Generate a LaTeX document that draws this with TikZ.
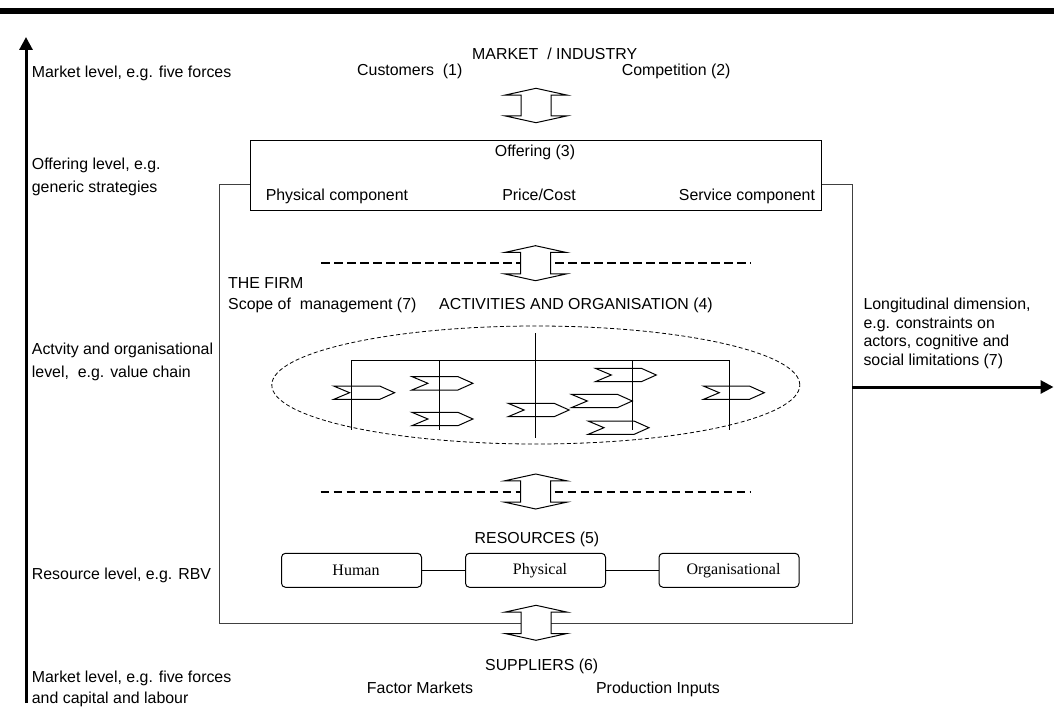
\documentclass[tikz,border=0pt]{standalone}
\usepackage{fontspec}
\setmainfont{Liberation Sans}
\newfontfamily\serifbox{Liberation Serif}
\usetikzlibrary{arrows.meta,shapes.geometric}
\newcommand\dblarr[4]{% name, cx, top, bottom
  \path[blockarr] (#2,#3) coordinate (#1-t) -- (#2-31,#3+6.8) -- (#2-15,#3+6.8) -- (#2-15,#4-6.8) -- (#2-31,#4-6.8)
    -- (#2,#4) coordinate (#1-b) -- (#2+31,#4-6.8) -- (#2+15,#4-6.8) -- (#2+15,#3+6.8) -- (#2+31,#3+6.8) -- cycle;}
\newcommand\chev[3]{% name, left x, centre y
  \draw[chevron] (#2,#3-6.7) coordinate (#1) -- (#2+46,#3-6.7) -- (#2+61,#3) -- (#2+46,#3+6.7) -- (#2,#3+6.7) -- (#2+16,#3) -- cycle;}
\begin{document}
\begin{tikzpicture}[x=1pt,y=-1pt,
  txt/.style={inner sep=0pt, text height=11.5pt, text depth=3.5pt, font=\fontsize{15.9}{23}\selectfont},
  ml/.style={inner sep=0pt, align=left, font=\fontsize{15.9}{23}\selectfont},
  thick axis/.style={line width=3pt, -{Triangle[length=13pt,width=13pt]}},
  firmbox/.style={draw=black!75, line width=1pt, inner sep=0pt},
  offerbox/.style={draw, fill=white, line width=1pt, inner sep=0pt},
  blockarr/.style={draw, fill=white, line width=1pt, line join=miter},
  dashline/.style={line width=2pt, dash pattern=on 8.5pt off 4.5pt},
  orgline/.style={line width=1pt},
  chevron/.style={line width=1pt, line join=miter},
  resbox/.style={draw, rounded corners=4pt, line width=1pt, minimum width=140pt, minimum height=34pt, inner sep=0pt, font=\serifbox\fontsize{16}{18}\selectfont},
  actell/.style={ellipse, draw, line width=0.8pt, dash pattern=on 4pt off 2.5pt, inner sep=0pt, minimum width=528pt, minimum height=118pt}
]
\useasboundingbox (0,0) rectangle (1054,727);

% top rule
\coordinate (rl) at (0,11);
\coordinate (rr) at (1054,11);
\draw[line width=6.5pt] (rl) -- (rr);

% axes
\coordinate (vb) at (26,703);
\coordinate (vt) at (26,37);
\draw[thick axis] (vb) -- (vt);

% firm
\node[firmbox, minimum width=632.7pt, minimum height=439pt] (firm) at (535.65,403.8) {};
\coordinate (hb) at (852,387);
\coordinate (ht) at (1053.5,387);
\draw[thick axis] (hb) -- (ht);

% offering
\node[offerbox, minimum width=571pt, minimum height=70pt] (offer) at (536.2,176) {};
\node[txt] (offt) at (535,153) {Offering (3)};
\node[txt, anchor=west] (pc) at (265.6,196.7) {Physical component};
\node[txt] (pcost) at (539,196.7) {Price/Cost};
\node[txt, anchor=east] (sc) at (815.2,196.7) {Service component};

% market
\node[txt, anchor=west] (mkt) at (472,56) {MARKET\ \ / INDUSTRY};
\node[txt, anchor=west] (cust) at (357,72) {Customers\ \ (1)};
\node[txt, anchor=west] (comp) at (621.6,72) {Competition (2)};

% dashed lines
\coordinate (d1l) at (321,263.3);
\coordinate (d1r) at (751,263.3);
\draw[dashline] (d1l) -- (d1r);
\coordinate (d2l) at (320.7,491.7);
\coordinate (d2r) at (751,491.7);
\draw[dashline] (d2l) -- (d2r);

% block double arrows
\dblarr{a1}{536}{88.3}{122.7}
\dblarr{a2}{535.5}{245.7}{280.7}
\dblarr{a3}{535.7}{474}{509}
\dblarr{a4}{536}{605.3}{640.3}

% firm texts
\node[txt, anchor=west] (firmt) at (228,284) {THE FIRM};
\node[txt, anchor=west] (scope) at (228,305) {Scope of\ \ management (7)};
\node[txt, anchor=west] (acts) at (439,305) {ACTIVITIES AND ORGANISATION (4)};

% activities ellipse
\node[actell] (ell) at (535.8,385) {};

% org chart
\coordinate (h1) at (351.7,360);
\coordinate (h5) at (729,360);
\draw[orgline] (h1) -- (h5);
\coordinate (v1b) at (351.7,430);
\coordinate (v2t) at (439.3,360);
\coordinate (v2b) at (439.3,430);
\coordinate (v3t) at (535.3,333);
\coordinate (v3b) at (535.3,438);
\coordinate (v4t) at (632.3,360);
\coordinate (v4b) at (632.3,430);
\coordinate (v5b) at (729,430);
\draw[orgline] (h1) -- (v1b);
\draw[orgline] (v2t) -- (v2b);
\draw[orgline] (v3t) -- (v3b);
\draw[orgline] (v4t) -- (v4b);
\draw[orgline] (h5) -- (v5b);

% chevrons
\chev{c1}{333.6}{392.7}
\chev{c2}{411.9}{383.3}
\chev{c3}{411.9}{419}
\chev{c4}{508.1}{410}
\chev{c5}{595.3}{375}
\chev{c6}{571.3}{401}
\chev{c7}{588}{427.7}
\chev{c8}{703.3}{392.7}

% resources
\node[txt] (rest) at (537,539.3) {RESOURCES (5)};
\node[resbox] (hum) at (351.5,570.3) {\hspace*{9pt}Human};
\node[resbox] (phys) at (535.5,570.3) {\hspace*{9pt}Physical};
\node[resbox] (org) at (729,570.3) {\hspace*{9pt}Organisational};
\draw[orgline] (hum) -- (phys);
\draw[orgline] (phys) -- (org);

% suppliers
\node[txt] (sup) at (541.7,666) {SUPPLIERS (6)};
\node[txt] (fm) at (420,689) {Factor Markets};
\node[txt] (pi) at (658,689) {Production Inputs};

% left labels
\node[txt, anchor=west] (l1) at (31.7,74) {Market level, e.g. five forces};
\node[ml, anchor=west] (l2) at (31.7,176.8) {Offering level, e.g.\\generic strategies};
\node[ml, anchor=west] (l3) at (31.7,362) {Actvity and organisational\\level,\ \ e.g. value chain};
\node[txt, anchor=west] (l4) at (31.7,575) {Resource level, e.g. RBV};
\node[ml, anchor=west, font=\fontsize{15.9}{20.3}\selectfont] (l5) at (31.7,689) {Market level, e.g. five forces\\and capital and labour};

% right label
\node[ml, anchor=west, font=\fontsize{15.9}{18.5}\selectfont] (r1) at (863.3,333.3) {Longitudinal dimension,\\e.g. constraints on\\actors, cognitive and\\social limitations (7)};
\end{tikzpicture}
\end{document}
